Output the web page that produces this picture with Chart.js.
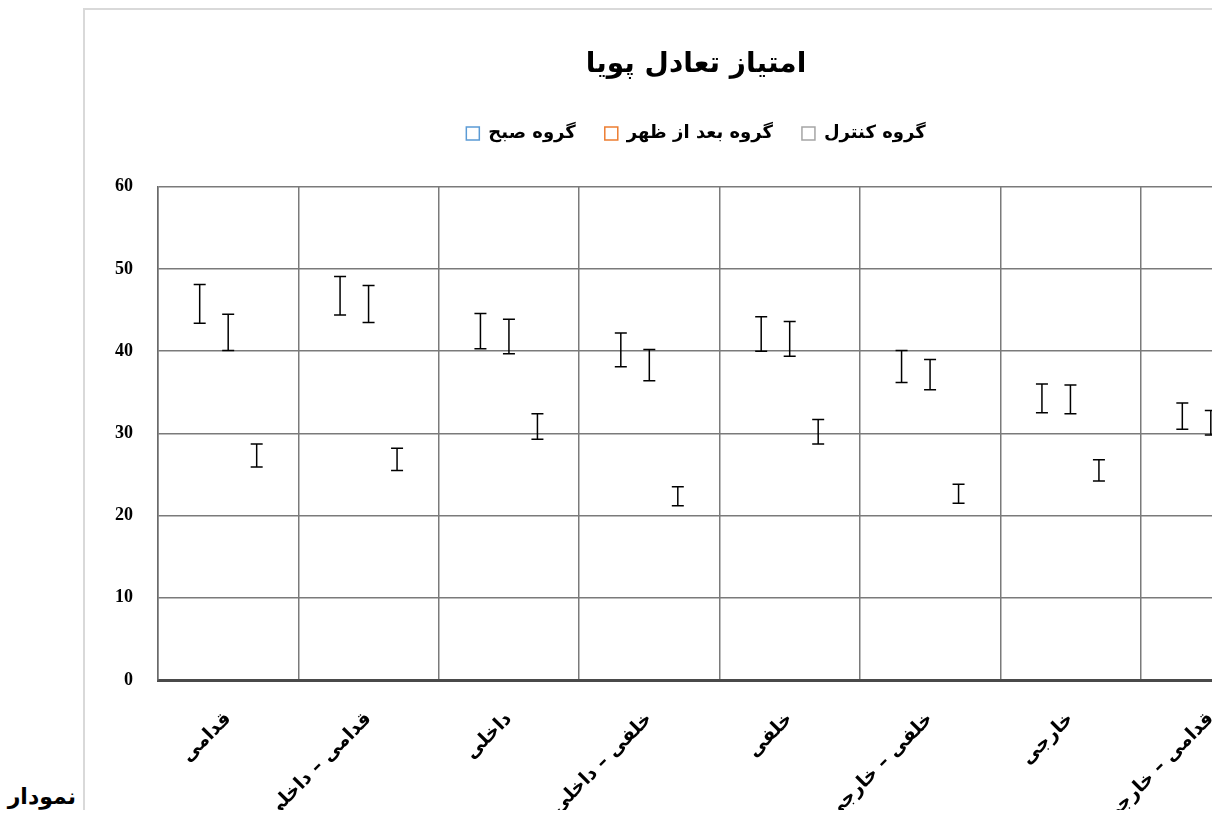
<!DOCTYPE html>
<html>
<head>
<meta charset="utf-8">
<script src="https://cdn.jsdelivr.net/npm/chart.js@4.4.1/dist/chart.umd.min.js"></script>
<style>
  html, body { margin: 0; padding: 0; background: #ffffff; width: 1225px; height: 815px; overflow: hidden; }
  #frame { position: absolute; left: 83px; top: 8px; width: 1129px; height: 802px; overflow: hidden;
           border-top: 2px solid #d9d9d9; border-left: 2px solid #d9d9d9; box-sizing: border-box; }
  #chart { position: absolute; left: 0; top: 0; }
  #caption { position: absolute; right: 1149px; top: 784px; font: bold 22px 'DejaVu Sans', sans-serif; direction: rtl; white-space: nowrap; color: #000; }
</style>
</head>
<body>
<div id="caption">نمودار</div>
<div id="frame"><canvas id="chart" width="1230" height="800"></canvas></div>
<script>
const categories = ['قدامی', 'قدامی – داخلی', 'داخلی', 'خلفی – داخلی', 'خلفی', 'خلفی – خارجی', 'خارجی', 'قدامی – خارجی'];
const seriesNames = ['گروه صبح', 'گروه بعد از ظهر', 'گروه کنترل'];
const seriesColors = ['#5B9BD5', '#ED7D31', '#A5A5A5'];
const morningLow = [43.4, 44.4, 40.3, 38.1, 40.0, 36.2, 32.5, 30.5];
const morningHigh = [48.1, 49.1, 44.6, 42.2, 44.2, 40.1, 36.0, 33.7];
const afternoonLow = [40.1, 43.5, 39.7, 36.4, 39.4, 35.3, 32.4, 29.8];
const afternoonHigh = [44.5, 48.0, 43.9, 40.2, 43.6, 39.0, 35.9, 32.8];
const controlLow = [25.9, 25.5, 29.3, 21.2, 28.7, 21.5, 24.2, 22.4];
const controlHigh = [28.7, 28.2, 32.4, 23.5, 31.7, 23.8, 26.8, 24.9];
const yTicks = [0, 10, 20, 30, 40, 50, 60];

const pairs = (lo, hi) => lo.map((v, i) => [v, hi[i]]);
const lows = [morningLow, afternoonLow, controlLow];
const highs = [morningHigh, afternoonHigh, controlHigh];

const datasets = seriesNames.map((name, i) => ({
  label: name,
  data: pairs(lows[i], highs[i]),
  backgroundColor: 'rgba(0,0,0,0)',
  borderWidth: 0,
  categoryPercentage: 0.609,
  barPercentage: 0.8
}));

const errorBars = {
  id: 'errorBars',
  afterDatasetsDraw(chart) {
    const ctx = chart.ctx;
    ctx.save();
    ctx.strokeStyle = '#000000';
    ctx.lineWidth = 1.5;
    chart.data.datasets.forEach((ds, i) => {
      const meta = chart.getDatasetMeta(i);
      meta.data.forEach(el => {
        const p = el.getProps(['x', 'y', 'base'], true);
        const top = Math.min(p.y, p.base), bot = Math.max(p.y, p.base);
        ctx.beginPath();
        ctx.moveTo(p.x, top); ctx.lineTo(p.x, bot);
        ctx.moveTo(p.x - 6, top); ctx.lineTo(p.x + 6, top);
        ctx.moveTo(p.x - 6, bot); ctx.lineTo(p.x + 6, bot);
        ctx.stroke();
      });
    });
    ctx.restore();
  }
};

new Chart(document.getElementById('chart'), {
  type: 'bar',
  data: { labels: categories, datasets },
  plugins: [errorBars],
  options: {
    responsive: false,
    animation: false,
    layout: { padding: { left: 26, right: 34, top: 10, bottom: 0 } },
    plugins: {
      title: {
        display: true,
        text: 'امتیاز تعادل پویا',
        color: '#000',
        font: { family: "'DejaVu Sans', sans-serif", size: 28, weight: 'bold' },
        padding: { top: 28, bottom: 14 }
      },
      subtitle: {
        display: true,
        text: '',
        weight: 500,
        font: { size: 1 },
        padding: { top: 33, bottom: 0 }
      },
      legend: {
        display: true,
        labels: {
          color: '#000',
          font: { family: "'DejaVu Sans', sans-serif", size: 18, weight: 'bold' },
          boxWidth: 13, boxHeight: 13, padding: 29,
          generateLabels: (chart) => chart.data.datasets.map((ds, i) => ({
            text: ds.label, fillStyle: '#ffffff', strokeStyle: seriesColors[i],
            lineWidth: 1.5, hidden: false, datasetIndex: i, fontColor: '#000'
          }))
        }
      },
      tooltip: { enabled: false }
    },
    scales: {
      x: {
        afterFit: (s) => { s.height = 130; },
        grid: { color: '#7a7a7a', lineWidth: 1.5, drawTicks: false, offset: true },
        border: { color: '#4a4a4a', width: 3 },
        ticks: {
          color: '#000', autoSkip: false, maxRotation: 45, minRotation: 45, padding: 28,
          font: { family: "'DejaVu Sans', sans-serif", size: 19, weight: 'bold' }
        }
      },
      y: {
        min: 0, max: 60,
        afterFit: (s) => { s.width = 47; },
        afterBuildTicks: (s) => { s.ticks = yTicks.map(v => ({ value: v })); },
        grid: { color: '#7a7a7a', lineWidth: 1.5, drawTicks: false },
        border: { color: '#6a6a6a', width: 1.5 },
        ticks: {
          color: '#000', padding: 25,
          font: { family: "'Liberation Serif', serif", size: 18, weight: 'bold' }
        }
      }
    }
  }
});
</script>
</body>
</html>
